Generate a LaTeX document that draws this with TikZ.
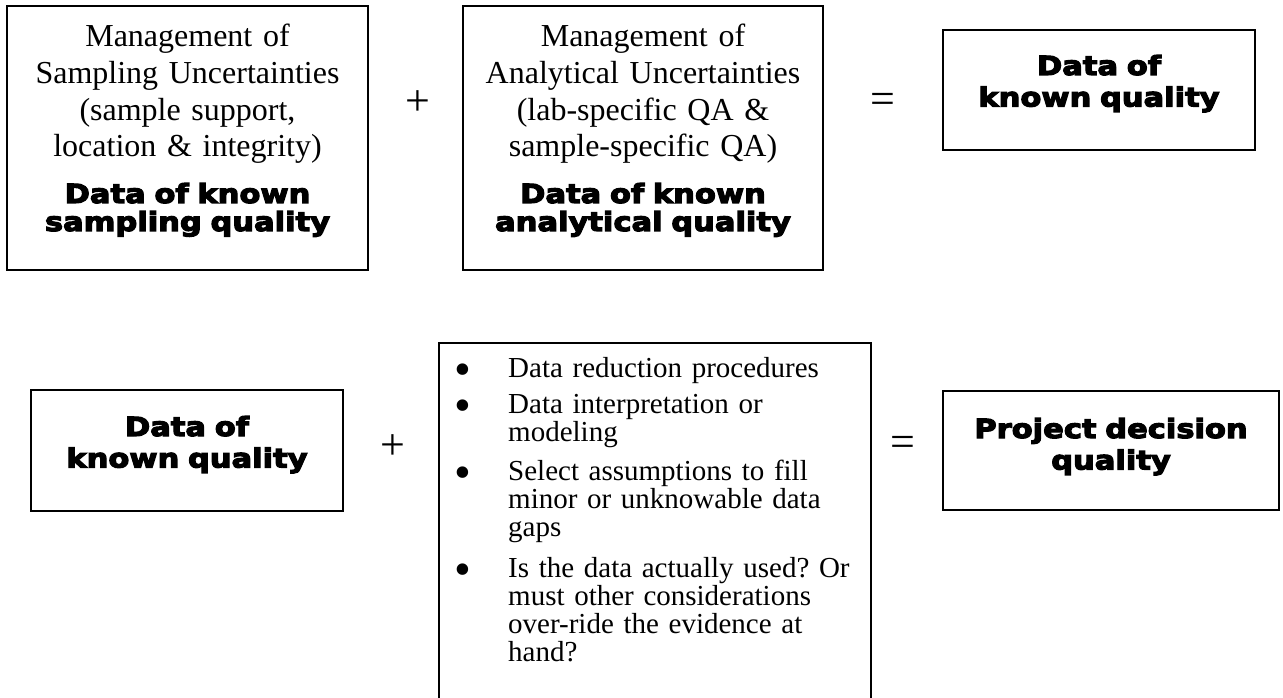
\documentclass[tikz,border=0pt]{standalone}
\usepackage{fontspec}
\setmainfont{Liberation Serif}
\newfontfamily\heavyfont{DejaVu Sans}[FakeStretch=1.16, BoldFeatures={FakeBold=4.5}]
% list bullet hung in the left margin of an item (no height or depth of its own)
\newcommand\itembullet{\makebox[0pt][r]{\raisebox{-8.6pt}[0pt][0pt]{\fontsize{48}{48}\selectfont\textbullet}\hspace{36.5pt}}}
\begin{document}
\frenchspacing
\begin{tikzpicture}[x=1pt, y=-1pt,
  box/.style={draw, line width=1.8pt, inner sep=0pt},
  plain/.style={font=\fontsize{32}{36.7}\selectfont\frenchspacing, align=center,
    text width=350pt, inner sep=0pt, anchor=base},
  heavy/.style={font=\heavyfont\bfseries\fontsize{26.3}{28}\selectfont,
    align=center, text width=350pt, inner sep=0pt, anchor=base},
  heavytall/.style={heavy, font=\heavyfont\bfseries\fontsize{26.3}{31.5}\selectfont},
  item/.style={font=\fontsize{29}{28.3}\selectfont\frenchspacing, align=left,
    text width=360pt, inner sep=0pt, anchor=base west},
  op/.style={font=\fontsize{44}{44}\selectfont, inner sep=0pt}]
\useasboundingbox (0,0) rectangle (1283,698);

% ---- first row: sampling + analytical = data of known quality
\node[box, minimum width=361pt, minimum height=264pt] (samp) at (187.5,138) {};
\node[plain] (sampTxt) at (187.5,46.7)
  {Management of\\Sampling Uncertainties\\(sample support,\\location \& integrity)};
\node[heavy] (sampQ) at (187.5,203) {Data of known\\sampling quality};

\node[op] (plusA) at (418,103) {+};

\node[box, minimum width=360pt, minimum height=264pt] (anal) at (643,138) {};
\node[plain] (analTxt) at (643,46.7)
  {Management of\\Analytical Uncertainties\\(lab-specific QA \&\\sample-specific QA)};
\node[heavy] (analQ) at (643,203) {Data of known\\analytical quality};

\node[op] (eqA) at (883,103) {=};

\node[box, minimum width=312pt, minimum height=120pt] (known) at (1099,90) {};
\node[heavytall] (knownTxt) at (1099,75) {Data of\\known quality};

% ---- second row: data + interpretation = decision quality
\node[box, minimum width=312pt, minimum height=121pt] (data) at (187,450.5) {};
\node[heavytall] (dataTxt) at (187,436) {Data of\\known quality};

\node[op] (plusB) at (393,447) {+};

\begin{scope}
  \clip (0,0) rectangle (1283,698);
  \node[box, minimum width=432pt, minimum height=417pt] (steps) at (655,551.5) {};
\end{scope}
\node[item] (i1) at (508,377) {\itembullet Data reduction procedures};
\node[item] (i2) at (508,413) {\itembullet Data interpretation or\\modeling};
\node[item] (i3) at (508,480) {\itembullet Select assumptions to fill\\minor or unknowable data\\gaps};
\node[item] (i4) at (508,577) {\itembullet Is the data actually used? Or\\must other considerations\\over-ride the evidence at\\hand?};

\node[op] (eqB) at (903,446) {=};

\node[box, minimum width=336pt, minimum height=119pt] (decision) at (1111,450.5) {};
\node[heavytall] (decTxt) at (1111,438) {Project decision\\quality};
\end{tikzpicture}
\end{document}
